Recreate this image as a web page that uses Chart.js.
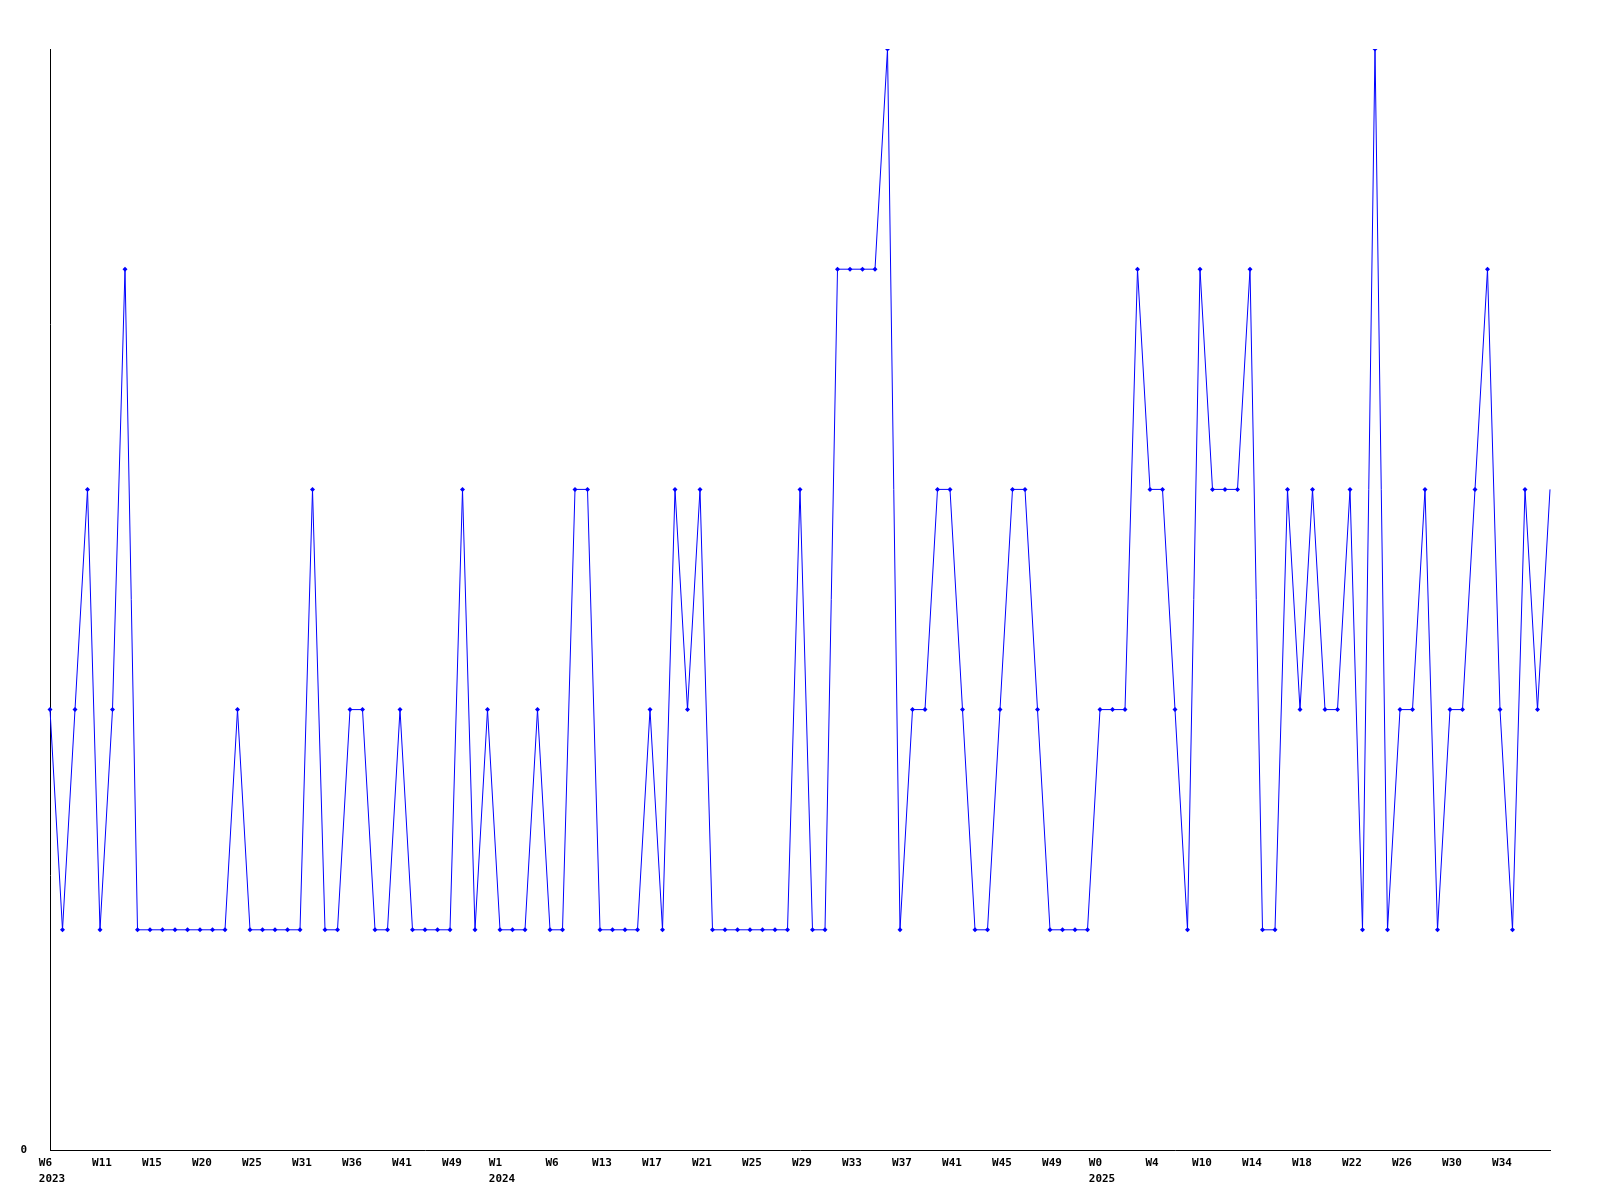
<!DOCTYPE html>
<html><head><meta charset="utf-8">
<script src="https://cdn.jsdelivr.net/npm/chart.js@4/dist/chart.umd.min.js"></script>
<style>html,body{margin:0;padding:0;background:#fff;} #wrap{width:1600px;height:1200px;position:relative;}</style>
</head><body><div id="wrap"><canvas id="c"></canvas></div>
<script>
const weeks2023 = ["W6","W7","W8","W9","W11","W12","W13","W14","W15","W16","W17","W18","W20","W21","W22","W23","W25","W26","W27","W28","W31","W32","W33","W34","W36","W37","W38","W39","W41","W42","W43","W44","W49","W50","W51","W52"];
const weeks2024 = ["W1","W2","W3","W4","W6","W7","W8","W9","W13","W14","W15","W16","W17","W18","W19","W20","W21","W22","W23","W24","W25","W26","W27","W28","W29","W30","W31","W32","W33","W34","W35","W36","W37","W38","W39","W40","W41","W42","W43","W44","W45","W46","W47","W48","W49","W50","W51","W52"];
const weeks2025 = ["W0","W1","W2","W3","W4","W5","W6","W7","W10","W11","W12","W13","W14","W15","W16","W17","W18","W19","W20","W21","W22","W23","W24","W25","W26","W27","W28","W29","W30","W31","W32","W33","W34","W35","W36","W37","W38"];
const values2023 = [2,1,2,3,1,2,4,1,1,1,1,1,1,1,1,2,1,1,1,1,1,3,1,1,2,2,1,1,2,1,1,1,1,3,1,2];
const values2024 = [1,1,1,2,1,1,3,3,1,1,1,1,2,1,3,2,3,1,1,1,1,1,1,1,3,1,1,4,4,4,4,5,1,2,2,3,3,2,1,1,2,3,3,2,1,1,1,1];
const values2025 = [2,2,2,4,3,3,2,1,4,3,3,3,4,1,1,3,2,3,2,2,3,1,5,1,2,2,3,1,2,2,3,4,2,1,3,2,3];
const years = ["2023","2024","2025"];
const yTickLabels = {0:"0"};

const weekGroups = [weeks2023, weeks2024, weeks2025];
const labels = [];
weekGroups.forEach((g, gi) => g.forEach((w, i) => {
  labels.push(i === 0 ? [w.padEnd(years[gi].length, ' '), years[gi]] : w);
}));
const values = values2023.concat(values2024, values2025);
const lastIdx = values.length - 1;
const tickFont = {family: "'DejaVu Sans Mono', monospace", size: 11, weight: 'bold', lineHeight: 1.45};

new Chart(document.getElementById('c'), {
  type: 'line',
  data: {
    labels: labels,
    datasets: [{
      data: values,
      borderColor: '#0000ff',
      backgroundColor: '#0000ff',
      borderWidth: 1,
      tension: 0,
      pointStyle: 'rectRot',
      pointRadius: ctx => ctx.dataIndex === lastIdx ? 0 : 2.5,
      pointBorderWidth: 0,
      pointBackgroundColor: '#0000ff',
      fill: false
    }]
  },
  options: {
    responsive: true,
    maintainAspectRatio: false,
    animation: false,
    devicePixelRatio: 1,
    layout: {padding: {top: 49, right: 50, left: 0, bottom: 0}},
    plugins: {legend: {display: false}, tooltip: {enabled: false}, title: {display: false}},
    scales: {
      x: {
        type: 'category',
        offset: false,
        grid: {display: false, drawTicks: false},
        border: {display: true, color: '#000', width: 1},
        ticks: {
          autoSkip: false, maxRotation: 0, minRotation: 0, padding: 5, labelOffset: 2,
          color: '#000', font: tickFont,
          callback: function(v, i) { return (i % 4 === 0 && i !== lastIdx) ? this.getLabelForValue(v) : ''; }
        },
        afterFit: s => { s.height = 50; }
      },
      y: {
        min: 0, max: 5,
        grid: {display: false, drawTicks: false},
        border: {display: true, color: '#000', width: 1},
        ticks: {
          stepSize: 1, padding: 23, color: '#000', font: tickFont,
          callback: v => (yTickLabels[v] !== undefined ? yTickLabels[v] : '')
        },
        afterFit: s => { s.width = 50; }
      }
    }
  }
});
</script></body></html>
